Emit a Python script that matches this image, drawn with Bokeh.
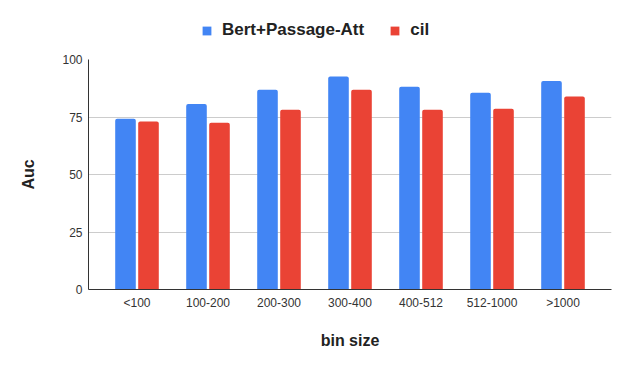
import numpy as np
from bokeh.plotting import figure
from bokeh.layouts import column
from bokeh.models import FactorRange, ColumnDataSource, Legend, LegendItem, FixedTicker, Range1d
from bokeh.transform import dodge
from bokeh.embed import file_html
from bokeh.resources import INLINE

categories = ["<100", "100-200", "200-300", "300-400", "400-512", "512-1000", ">1000"]
bert_passage_att = [74.2, 80.7, 86.8, 92.6, 88.1, 85.5, 90.7]
cil = [73.0, 72.5, 78.1, 86.8, 78.1, 78.6, 83.9]
series_names = ["Bert+Passage-Att", "cil"]
y_ticks = [0, 25, 50, 75, 100]

FONT = "Liberation Sans"
BLUE = "#4285F4"
RED = "#EA4335"

source = ColumnDataSource(data=dict(cat=categories, bert=bert_passage_att, cil=cil))

# ---- legend strip (separate figure so the legend is not clipped by the chart frame)
lg = figure(
    width=614, height=45, x_range=Range1d(0, 1), y_range=Range1d(0, 1),
    x_axis_type=None, y_axis_type=None,
    output_backend="svg", toolbar_location=None,
    min_border_left=0, min_border_right=0, min_border_top=0, min_border_bottom=0,
)
lg.outline_line_color = None
lg.xgrid.grid_line_color = None
lg.ygrid.grid_line_color = None
# legend-only renderers: one NaN row, so nothing is drawn but the legend swatch
proxy = ColumnDataSource(data=dict(x=np.array([np.nan]), top=np.array([np.nan])))
l1 = lg.vbar(x="x", top="top", width=0.1, source=proxy, fill_color=BLUE, line_color=None)
l2 = lg.vbar(x="x", top="top", width=0.1, source=proxy, fill_color=RED, line_color=None)
legend = Legend(
    items=[LegendItem(label=series_names[0], renderers=[l1]), LegendItem(label=series_names[1], renderers=[l2])],
    orientation="horizontal",
    location=(113, 5),
    glyph_width=11, glyph_height=11,
    label_standoff=10, spacing=25,
    padding=0, margin=0,
    border_line_color=None, background_fill_alpha=0,
    label_text_font=FONT, label_text_font_size="17px", label_text_font_style="bold",
    label_text_color="#222222",
)
lg.add_layout(legend, "center")

# ---- main chart
p = figure(
    width=614, height=310,
    x_range=FactorRange(*categories, range_padding=0.0523),
    y_range=(0, 100),
    output_backend="svg", toolbar_location=None,
    min_border_left=88, min_border_right=3, min_border_top=14, min_border_bottom=66,
)
p.outline_line_color = None

p.vbar(x=dodge("cat", -0.162, range=p.x_range), top="bert", width=0.29, source=source,
       fill_color=BLUE, line_color=None, border_radius=(2, 2, 0, 0))
p.vbar(x=dodge("cat", 0.162, range=p.x_range), top="cil", width=0.29, source=source,
       fill_color=RED, line_color=None, border_radius=(2, 2, 0, 0))

p.xgrid.grid_line_color = None
p.ygrid.grid_line_color = "#cccccc"
p.yaxis.ticker = FixedTicker(ticks=y_ticks)

for ax in (p.xaxis[0], p.yaxis[0]):
    ax.major_tick_line_color = None
    ax.minor_tick_line_color = None
    ax.major_tick_out = 0
    ax.major_tick_in = 0
    ax.axis_line_color = "#333333"
    ax.major_label_text_font = FONT
    ax.major_label_text_font_size = "12px"
    ax.major_label_text_color = "#333333"
    ax.major_label_standoff = 6
    ax.axis_label_text_font = FONT
    ax.axis_label_text_font_size = "16px"
    ax.axis_label_text_font_style = "bold"
    ax.axis_label_text_color = "#222222"
    ax.axis_label_standoff = 22

p.xaxis.axis_label = "bin size"
p.yaxis.axis_label = "Auc"
p.xaxis.axis_label_standoff = 19

layout = column(lg, p, spacing=0)
open("out.html", "w").write(file_html(layout, INLINE))
